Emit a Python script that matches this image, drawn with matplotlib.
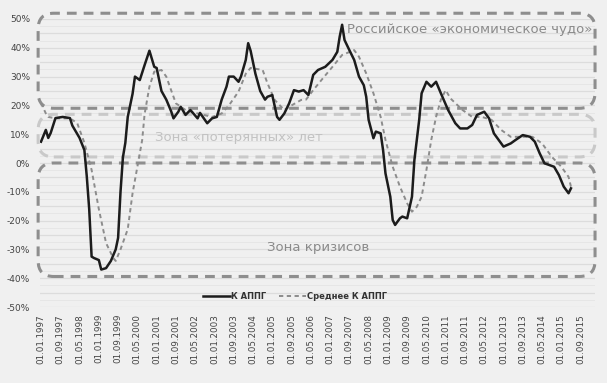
import matplotlib
matplotlib.use("Agg")
import matplotlib.pyplot as plt
from matplotlib.patches import FancyBboxPatch

# months counted from 01.01.1997
k_months = [0, 2, 3, 4, 6, 9, 12, 13, 16, 18, 19, 20, 21, 22, 24, 25, 27, 29, 31, 32,
            33, 34, 35, 36, 38, 39, 41, 43, 45, 47, 48, 50, 52, 54, 55, 57, 58, 60, 62, 65,
            66, 68, 69, 71, 73, 75, 77, 78, 80, 82, 83, 85, 86, 87, 89, 91, 93, 94, 96, 98,
            99, 101, 103, 105, 107, 109, 111, 113, 115, 118, 121, 123, 124, 125, 126, 128, 130, 132, 134, 135,
            136, 138, 139, 141, 142, 143, 145, 146, 147, 149, 150, 152, 154, 155, 157, 158, 160, 162, 164, 166,
            169, 172, 174, 177, 179, 181, 184, 186, 188, 190, 192, 195, 197, 200, 203, 205, 207, 209, 211, 213,
            215, 217, 219, 220]
k_appg = [7.4, 11.5, 8.7, 10.4, 15.6, 16.0, 15.6, 13.0, 8.7, 4.5, -4.7, -16, -32.5, -33, -33.7, -37, -36.5, -34, -30, -26,
          -10, 2, 7, 16, 24, 30, 28.8, 34, 39, 33.4, 33, 25, 22, 18, 15.5, 17.8, 19.5, 16.7, 18.4, 15.5,
          17.4, 15, 13.8, 15.5, 16, 22, 26.5, 30, 30, 28.2, 30, 35.8, 41.6, 39, 31, 25, 22, 23, 23.6, 16,
          15, 17.2, 20.7, 25.3, 24.8, 25.3, 23.6, 30.6, 32.3, 33.4, 35.8, 38.6, 43.9, 48, 42.7, 39.2, 35.8, 30, 27, 23,
          15, 8.6, 10.9, 10.3, 4.5, -3.6, -11.7, -19.8, -21.5, -19.2, -18.6, -19.2, -11.7, 1, 15, 24.2, 28.2, 26.5, 28.2, 24.2,
          18.4, 13.8, 12, 12, 13.2, 16.7, 17.8, 15.5, 10.3, 8, 5.7, 6.8, 8, 9.7, 9.1, 7.4, 3.4, -0.1, -0.7, -1.3,
          -4.2, -8.2, -10.5, -8.8]

avg_months = [0, 2, 3, 6, 12, 15, 18, 21, 24, 27, 30, 31, 33, 36, 38, 40, 42, 43, 45, 47,
              50, 52, 54, 56, 60, 65, 71, 75, 78, 82, 85, 87, 92, 94, 97, 101, 104, 108, 110, 113,
              117, 121, 125, 130, 132, 135, 138, 141, 143, 146, 149, 152, 154, 156, 158, 160, 162, 164, 166, 168,
              170, 175, 179, 183, 187, 191, 195, 199, 204, 208, 212, 216, 219, 220]
avg_appg = [20.8, 17.2, 16, 15.5, 15.5, 13.9, 7, -2.4, -16, -27.8, -33, -34, -30, -23, -10.5, -1.3, 8, 17, 26.5, 31.7,
            32.3, 30, 25.3, 20.7, 18.4, 17.2, 16, 17.2, 20, 24.8, 31, 33, 32.3, 27.7, 21.9, 18.4, 20, 21.9, 22, 25.3,
            29.4, 33.4, 37.5, 39.2, 36.9, 31.1, 24.2, 16, 8, -1.3, -8.2, -14, -16.9, -15.2, -11.7, -2.4, 8, 16, 22, 25.3,
            22.4, 18.4, 16, 16, 15, 11.5, 9.1, 9.1, 9.1, 6.8, 2.2, -1.3, -4.8, -8.2]

tick_months = list(range(0, 225, 8))
tick_labels = ["01.01.1997", "01.09.1997", "01.05.1998", "01.01.1999", "01.09.1999", "01.05.2000",
               "01.01.2001", "01.09.2001", "01.05.2002", "01.01.2003", "01.09.2003", "01.05.2004",
               "01.01.2005", "01.09.2005", "01.05.2006", "01.01.2007", "01.09.2007", "01.05.2008",
               "01.01.2009", "01.09.2009", "01.05.2010", "01.01.2011", "01.09.2011", "01.05.2012",
               "01.01.2013", "01.09.2013", "01.05.2014", "01.01.2015", "01.09.2015"]

# zones: (label, bottom, top, edge colour, label position, label colour)
zones = [
    ("Российское «экономическое чудо»", 19, 52, "#8e8e8e", (127, 46.3), "#8a8a8a"),
    ("Зона «потерянных» лет", 2.1, 16.9, "#c9c9c9", (47.3, 9), "#c2c2c2"),
    ("Зона кризисов", -39.4, 0, "#8e8e8e", (93.8, -29.5), "#8a8a8a"),
]

bg = "#f0f0f0"
fig = plt.figure(figsize=(6.07, 3.83), dpi=100, facecolor=bg)
ax = fig.add_axes([0.0656, 0.1984, 0.9147, 0.752], facecolor=bg)

ax.set_xlim(-0.5, 230)
ax.set_ylim(-50, 50)

for v in range(-50, 51, 5):
    ax.axhline(v, color="#dcdcdc", lw=0.9, zorder=0)
for v in range(-50, 50, 5):
    ax.axhline(v + 2.5, color="#e6e6e6", lw=0.7, zorder=0)

for name, lo, hi, ec, pos, tc in zones:
    box = FancyBboxPatch((-1.2, lo), 231.2, hi - lo,
                         boxstyle="round,pad=0,rounding_size=6.5",
                         mutation_aspect=0.84, fill=False, edgecolor=ec,
                         lw=2.2, linestyle=(0, (3.2, 2.3)), clip_on=False, zorder=1)
    ax.add_patch(box)
    ax.text(pos[0], pos[1], name, color=tc, fontsize=9.5, ha="left", va="center", zorder=2)

ax.plot(k_months, k_appg, color="#1c1c1c", lw=1.8, label="К АППГ", zorder=4)
ax.plot(avg_months, avg_appg, color="#8c8c8c", lw=1.4, linestyle=(0, (2.2, 1.8)),
        label="Среднее К АППГ", zorder=3)

ax.set_yticks(range(-50, 51, 10))
ax.set_yticklabels([f"{v}%" for v in range(-50, 51, 10)], fontsize=6.5, color="#444444")
ax.set_xticks(tick_months)
ax.set_xticklabels(tick_labels, rotation=90, fontsize=6.3, color="#444444")
ax.tick_params(axis="both", length=0)
ax.tick_params(axis="y", pad=7)
ax.tick_params(axis="x", pad=5)
for s in ax.spines.values():
    s.set_visible(False)

leg = ax.legend(loc="center", bbox_to_anchor=(0.46, 0.038), ncol=2, frameon=False,
                fontsize=6, handlelength=3.2, columnspacing=1.5, handletextpad=0.2)
for t in leg.get_texts():
    t.set_color("#333333")
    t.set_fontweight("bold")

fig.savefig("out.png", dpi=100, facecolor=bg)
